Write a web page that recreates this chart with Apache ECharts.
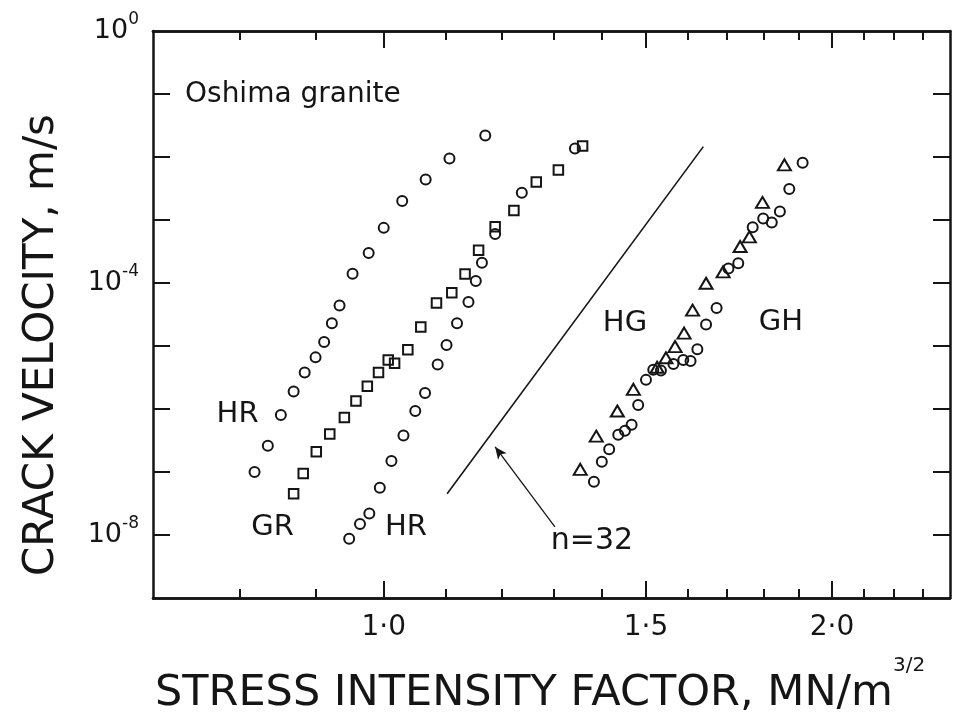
<!DOCTYPE html>
<html>
<head>
<meta charset="utf-8">
<title>Oshima granite - crack velocity</title>
<script src="https://cdn.jsdelivr.net/npm/echarts@6/dist/echarts.min.js"></script>
<style>
  html, body { margin: 0; padding: 0; background: #fff; }
  #main { width: 954px; height: 716px; }
</style>
</head>
<body>
<div id="main"></div>
<script>
// [stress intensity factor (MN/m^3/2), crack velocity (m/s)]
var hrLeft = [[0.819, 1.0e-7], [0.836, 2.6e-7], [0.853, 8.0e-7], [0.870, 1.9e-6], [0.885, 3.8e-6],
  [0.900, 6.6e-6], [0.912, 1.16e-5], [0.923, 2.3e-5], [0.934, 4.4e-5], [0.953, 1.4e-4],
  [0.977, 3.0e-4], [1.000, 7.5e-4], [1.029, 2.0e-3], [1.067, 4.4e-3], [1.107, 9.5e-3], [1.170, 2.2e-2]];

var grSquares = [[0.870, 4.5e-8], [0.883, 9.5e-8], [0.901, 2.1e-7], [0.920, 4.0e-7], [0.941, 7.3e-7],
  [0.958, 1.34e-6], [0.975, 2.3e-6], [0.992, 3.8e-6], [1.007, 6.0e-6], [1.017, 5.3e-6],
  [1.038, 8.7e-6], [1.059, 2.0e-5], [1.085, 4.8e-5], [1.111, 7.0e-5], [1.134, 1.39e-4],
  [1.158, 3.3e-4], [1.188, 7.8e-4], [1.223, 1.41e-3], [1.266, 4.0e-3], [1.310, 6.2e-3], [1.360, 1.5e-2]];

var hrMid = [[0.948, 8.7e-9], [0.964, 1.5e-8], [0.978, 2.2e-8], [0.994, 5.6e-8], [1.012, 1.5e-7],
  [1.031, 3.8e-7], [1.050, 9.3e-7], [1.066, 1.8e-6], [1.087, 5.1e-6], [1.102, 1.04e-5],
  [1.120, 2.3e-5], [1.140, 5.0e-5], [1.153, 1.08e-4], [1.164, 2.1e-4], [1.188, 6.0e-4],
  [1.238, 2.7e-3], [1.344, 1.37e-2]];

var hgTri = [[1.355, 1.1e-7], [1.389, 3.7e-7], [1.435, 9.3e-7], [1.471, 2.05e-6], [1.526, 4.6e-6],
  [1.547, 6.5e-6], [1.569, 9.8e-6], [1.591, 1.6e-5], [1.612, 3.7e-5], [1.646, 9.9e-5],
  [1.690, 1.5e-4], [1.735, 3.8e-4], [1.760, 5.4e-4], [1.796, 1.9e-3], [1.858, 7.5e-3]];

var ghCircle = [[1.384, 7.0e-8], [1.401, 1.46e-7], [1.417, 2.3e-7], [1.437, 3.9e-7], [1.452, 4.5e-7],
  [1.467, 5.6e-7], [1.482, 1.16e-6], [1.500, 2.9e-6], [1.517, 4.2e-6], [1.535, 4.1e-6],
  [1.565, 5.2e-6], [1.589, 6.0e-6], [1.607, 5.8e-6], [1.624, 8.9e-6], [1.646, 2.2e-5],
  [1.673, 4.0e-5], [1.704, 1.7e-4], [1.730, 2.05e-4], [1.769, 7.7e-4], [1.798, 1.06e-3],
  [1.822, 9.1e-4], [1.845, 1.36e-3], [1.872, 3.1e-3], [1.911, 8.1e-3]];

// slope n = 32 reference line and the arrow pointing at it
var nLine = [[1.103, 4.5e-8], [1.639, 1.46e-2]];
var nArrow = [[1.303, 1.35e-8], [1.188, 2.5e-7]];

// axis ticks / labels
var xLabelValues = [1.0, 1.5, 2.0];
var xMinorTicks = [0.8, 0.9, 1.1, 1.2, 1.3, 1.4, 1.6, 1.7, 1.8, 1.9, 2.1, 2.2, 2.3];
var yTickValues = [1e-8, 1e-7, 1e-6, 1e-5, 1e-4, 1e-3, 1e-2, 1e-1];
var yLabelValues = [1, 1e-4, 1e-8];

// text notes placed in data space: [text, K, v, align, size]
var notes = [
  ['Oshima granite', 0.7355, 0.0964, 'left', 28],
  ['HR', 0.7978, 8.3e-7, 'center', 29],
  ['GR', 0.8422, 1.32e-8, 'center', 29],
  ['HR', 1.0351, 1.32e-8, 'center', 29],
  ['HG', 1.4521, 2.32e-5, 'center', 29],
  ['GH', 1.8481, 2.4e-5, 'center', 29],
  ['n=32', 1.3799, 8.0e-9, 'center', 30]
];

var FONT = 'DejaVu Sans';
var INK = '#151515';

var chart = echarts.init(document.getElementById('main'));

function xAxisOf(pos, ticks, len, withLabels) {
  return {
    type: 'log', logBase: 10, min: 0.7, max: 2.4, position: pos,
    axisLine: {show: true, onZero: false, lineStyle: {color: INK, width: 2.5}},
    axisTick: {show: true, inside: true, length: len, customValues: ticks,
      lineStyle: {color: INK, width: 2}},
    axisLabel: withLabels ? {
      show: true, customValues: xLabelValues, margin: 16,
      color: INK, fontFamily: FONT, fontSize: 28,
      formatter: function (v) { return v.toFixed(1).replace('.', '\u00b7'); }
    } : {show: false},
    splitLine: {show: false}
  };
}

function yAxisOf(pos, withLabels) {
  return {
    type: 'log', logBase: 10, min: 1e-9, max: 1, position: pos,
    axisLine: {show: true, onZero: false, lineStyle: {color: INK, width: 2.5}},
    axisTick: {show: true, inside: true, length: 17, customValues: yTickValues,
      lineStyle: {color: INK, width: 2}},
    axisLabel: withLabels ? {
      show: true, customValues: yLabelValues, margin: 14,
      color: INK, fontFamily: FONT, fontSize: 27, lineHeight: 40,
      formatter: function (v) {
        return '10{s|' + Math.round(Math.log10(v)) + '}';
      },
      rich: {s: {fontFamily: FONT, fontSize: 17, lineHeight: 17, verticalAlign: 'top', color: INK}}
    } : {show: false},
    splitLine: {show: false}
  };
}

function pts(name, data, symbol, size) {
  return {
    name: name, type: 'scatter', data: data, symbol: symbol, symbolSize: size,
    xAxisIndex: 0, yAxisIndex: 0,
    itemStyle: {color: 'rgba(255,255,255,0)', borderColor: INK, borderWidth: 2, opacity: 1}
  };
}

var option = {
  animation: false,
  backgroundColor: '#fff',
  grid: {left: 153, right: 4, top: 31, bottom: 118, outerBoundsMode: 'none'},
  xAxis: [
    xAxisOf('bottom', xLabelValues, 17, true),
    xAxisOf('bottom', xMinorTicks, 9, false),
    xAxisOf('top', xLabelValues, 17, false),
    xAxisOf('top', xMinorTicks, 9, false)
  ],
  yAxis: [yAxisOf('left', true), yAxisOf('right', false)],
  graphic: [
    {
      type: 'text', x: 42, y: 345, rotation: Math.PI / 2,
      style: {text: 'CRACK VELOCITY, m/s', fill: INK, font: '42px "DejaVu Sans"',
        align: 'center', verticalAlign: 'middle'}
    },
    {
      type: 'text', x: 155, y: 694,
      style: {
        text: '{t|STRESS INTENSITY FACTOR, MN/m}{s|3/2}', fill: INK,
        align: 'left', verticalAlign: 'middle',
        rich: {
          t: {fontFamily: FONT, fontSize: 43, lineHeight: 76, fill: INK},
          s: {fontFamily: FONT, fontSize: 20, lineHeight: 24, verticalAlign: 'top', fill: INK}
        }
      }
    }
  ],
  series: [
    pts('HR', hrLeft, 'circle', 10),
    pts('GR', grSquares, 'rect', 9.5),
    pts('HR2', hrMid, 'circle', 10),
    pts('HG', hgTri, 'triangle', [13, 11]),
    pts('GH', ghCircle, 'circle', 10),
    {
      name: 'n=32', type: 'line', data: nLine, symbol: 'none',
      lineStyle: {color: INK, width: 1.6},
      markLine: {
        silent: true, symbol: ['none', 'arrow'], symbolSize: [8, 12],
        label: {show: false},
        lineStyle: {color: INK, width: 1.3, type: 'solid'},
        data: [[{coord: nArrow[0]}, {coord: nArrow[1]}]]
      }
    },
    {
      name: 'notes', type: 'scatter', symbolSize: 0, silent: true,
      itemStyle: {opacity: 1},
      data: notes.map(function (n) {
        return {
          value: [n[1], n[2]],
          label: {show: true, formatter: n[0], align: n[3], fontSize: n[4]}
        };
      }),
      label: {show: true, position: 'inside', color: INK, fontFamily: FONT, opacity: 1}
    }
  ]
};

chart.setOption(option);
</script>
</body>
</html>
